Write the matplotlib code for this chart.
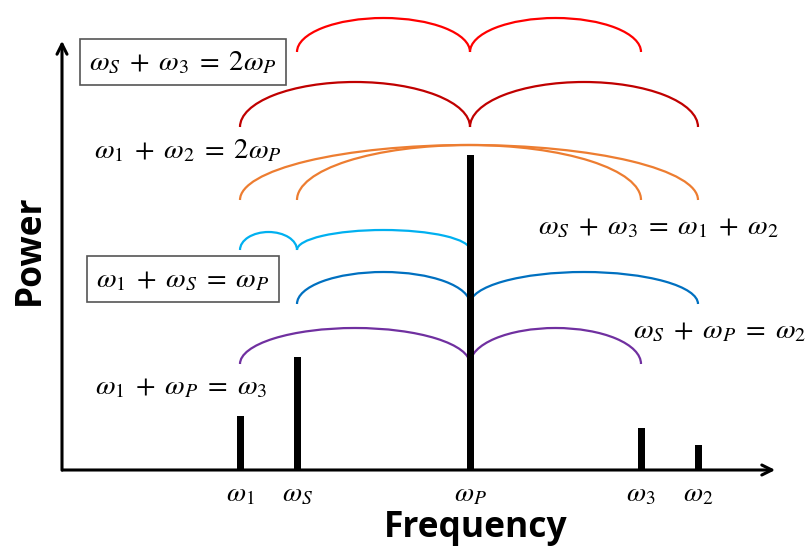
import matplotlib
matplotlib.use("Agg")
import matplotlib.pyplot as plt
from matplotlib.patches import Arc

plt.rcParams['mathtext.fontset'] = 'stix'

# spectral lines (frequency position, power)
labels = [r'$\omega_1$', r'$\omega_S$', r'$\omega_P$', r'$\omega_3$', r'$\omega_2$']
freq = [178, 235, 408, 579, 636]
power = [54, 113, 315, 42, 25]
f = dict(zip(['1', 'S', 'P', '3', '2'], freq))

# arc groups: colour, base level, list of (from, to, arc height)
arc_colors = ['#FF0000', '#C00000', '#ED7D31', '#00B0F0', '#0070C0', '#7030A0']
arc_base = [418, 343, 270, 220, 166, 106]
arc_segments = [
    [('S', 'P', 34), ('P', '3', 34)],
    [('1', 'P', 45), ('P', '2', 45)],
    [('1', '2', 55), ('S', '3', 55)],
    [('1', 'S', 18), ('S', 'P', 20)],
    [('S', 'P', 32), ('P', '2', 32)],
    [('1', 'P', 36), ('P', '3', 36)],
]

# relation labels: text, x, y, boxed
rel_text = [r'$\omega_S\;+\;\omega_3\;=\;2\omega_P$',
            r'$\omega_1\;+\;\omega_2\;=\;2\omega_P$',
            r'$\omega_S\;+\;\omega_3\;=\;\omega_1\;+\;\omega_2$',
            r'$\omega_1\;+\;\omega_S\;=\;\omega_P$',
            r'$\omega_S\;+\;\omega_P\;=\;\omega_2$',
            r'$\omega_1\;+\;\omega_P\;=\;\omega_3$']
rel_x = [121, 126, 596, 121, 658, 119]
rel_y = [408, 320, 244, 191, 140, 84]
rel_box = [True, False, False, True, False, False]

fig = plt.figure(figsize=(8.11, 5.48), dpi=100)
ax = fig.add_axes([0, 0, 1, 1])
ax.set_xlim(-62, 749)
ax.set_ylim(-78, 470)
ax.axis('off')

# axes with arrows
ax.annotate('', xy=(0, 432), xytext=(0, -3),
            arrowprops=dict(arrowstyle='->', lw=2.2, color='black', mutation_scale=18))
ax.annotate('', xy=(716, 0), xytext=(-2, 0),
            arrowprops=dict(arrowstyle='->', lw=2.2, color='black', mutation_scale=18))

ax.bar(freq, power, width=7, color='black', zorder=3)

for color, base, segs in zip(arc_colors, arc_base, arc_segments):
    for a, b, h in segs:
        x0, x1 = f[a], f[b]
        ax.add_patch(Arc(((x0 + x1) / 2, base), x1 - x0, 2 * h,
                         theta1=0, theta2=180, color=color, lw=1.6, zorder=2))

for t, x, y, boxed in zip(rel_text, rel_x, rel_y, rel_box):
    kw = {}
    if boxed:
        kw['bbox'] = dict(boxstyle='square,pad=0.32', fc='white', ec='#555555', lw=1.2)
    ax.text(x, y, t, fontsize=20.5, ha='center', va='center', **kw)

for x, lab in zip(freq, labels):
    ax.text(x, -23, lab, fontsize=20, ha='center', va='center')

ax.text(414, -58, 'Frequency', fontsize=25.5, fontweight='bold',
        family=['Open Sans', 'DejaVu Sans'], ha='center', va='center')
ax.text(-32, 220, 'Power', fontsize=25.5, fontweight='bold',
        family=['Open Sans', 'DejaVu Sans'], ha='center', va='center', rotation=90)

fig.savefig('out.png', dpi=100)
